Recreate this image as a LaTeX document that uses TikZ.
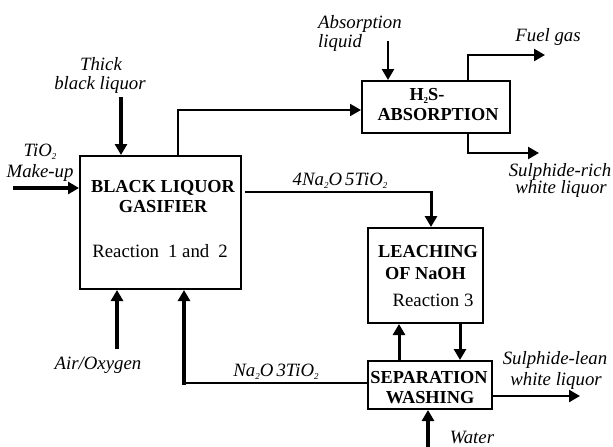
\documentclass[tikz,border=0pt]{standalone}
\usepackage{fontspec}
\setmainfont{Liberation Serif}
\usetikzlibrary{arrows.meta}
\newcommand\mysub[1]{\raisebox{-3pt}{\fontsize{9}{9}\selectfont #1}}
\tikzset{
  box/.style={draw=black, line width=2pt, inner sep=0pt, fill=white},
  lab/.style={font=\fontsize{18.8}{22}\selectfont\itshape, inner sep=0pt, anchor=base},
  btxt/.style={font=\fontsize{18.3}{21}\selectfont\bfseries, inner sep=0pt, anchor=base},
  rtxt/.style={font=\fontsize{18.8}{22}\selectfont, inner sep=0pt, anchor=base},
  tip/.style={-{Triangle[width=12pt,length=11pt]}},
  wthin/.style={line width=1.7pt},
  wmid/.style={line width=2.5pt},
  wthick/.style={line width=3.6pt},
}
\begin{document}
\begin{tikzpicture}[x=1pt,y=-1pt]
\useasboundingbox (0,0) rectangle (613,447);
% boxes
\node[box, minimum width=161pt, minimum height=133pt] (gas) at (160.5,222.5) {};
\node[box, minimum width=148pt, minimum height=52pt] (h2s) at (436,107) {};
\node[box, minimum width=115pt, minimum height=95pt] (leach) at (425.5,275.5) {};
\node[box, minimum width=124pt, minimum height=48pt] (sep) at (430,385) {};
% box texts
\node[btxt] (g1) at (163,192) {BLACK LIQUOR};
\node[btxt] (g2) at (163,212) {GASIFIER};
\node[rtxt] (g3) at (160,257) {Reaction\hspace{9pt}1 and\hspace{9pt}2};
\node[btxt] (h1) at (427,100) {H\mysub{2}S-};
\node[btxt] (h2) at (438,120) {ABSORPTION};
\node[btxt] (l1) at (428,257) {LEACHING};
\node[btxt] (l2) at (425.5,279) {OF NaOH};
\node[rtxt] (l3) at (433,306) {Reaction 3};
\node[btxt] (s1) at (429,383) {SEPARATION};
\node[btxt] (s2) at (430,403) {WASHING};
% labels
\node[lab] (t1) at (101,70) {Thick};
\node[lab] (t2) at (100,89) {black liquor};
\node[lab] (ti1) at (40,156) {TiO\mysub{2}};
\node[lab] (ti2) at (40,177) {Make-up};
\node[lab, anchor=base west] (a1) at (318,28) {Absorption};
\node[lab, anchor=base west] (a2) at (318,47) {liquid};
\node[lab] (fg) at (548,41) {Fuel gas};
\node[lab] (sr1) at (560,176) {Sulphide-rich};
\node[lab] (sr2) at (561,193) {white liquor};
\node[lab] (n4) at (340,185) {4Na\mysub{2}O\,5TiO\mysub{2}};
\node[lab] (ao) at (98,369) {Air/Oxygen};
\node[lab] (n3) at (276,376) {Na\mysub{2}O\,3TiO\mysub{2}};
\node[lab] (sl1) at (555,364) {Sulphide-lean};
\node[lab] (sl2) at (556,385) {white liquor};
\node[lab] (wt) at (472,443) {Water};
% coordinates
\coordinate (ctbl) at (121,97);
\coordinate (cti) at (13,188);
\coordinate (cair) at (117,349);
\coordinate (c1) at (178,110);
\coordinate (c2) at (431,192);
\coordinate (c3) at (184,383);
\coordinate (cal) at (388,41);
\coordinate (c4) at (468,55);
\coordinate (fgend) at (545,55);
\coordinate (c5) at (468,153);
\coordinate (srend) at (539,153);
\coordinate (clu) at (399,340);
\coordinate (cld) at (460,340);
\coordinate (slend) at (580,396);
\coordinate (cwa) at (428,447);
% connectors
\draw[line width=4pt, tip] (ctbl) -- (ctbl |- gas.north);
\draw[wthick, tip] (cti) -- (cti -| gas.west);
\draw[wthick, tip] (cair) -- (cair |- gas.south);
\draw[line width=2pt, tip] (c1 |- gas.north) -- (c1) -- (c1 -| h2s.west);
\draw[wthin] ([xshift=3pt]gas.east |- c2) -- (c2);
\draw[line width=3pt, tip, line cap=rect] (c2) -- (c2 |- leach.north);
\draw[wmid] (sep.west |- c3) -- (c3);
\draw[wthick, tip, line cap=rect] (c3) -- (c3 |- gas.south);
\draw[wmid, tip] (cal) -- (cal |- h2s.north);
\draw[wmid, tip] (c4 |- h2s.north) -- (c4) -- (fgend);
\draw[wmid, tip] (c5 |- h2s.south) -- (c5) -- (srend);
\draw[line width=3pt, tip] (clu |- sep.north) -- (clu |- leach.south);
\draw[line width=3pt, tip] (cld |- leach.south) -- (cld |- sep.north);
\draw[wmid, tip] (sep.east |- slend) -- (slend);
\draw[wthick, tip] (cwa) -- (cwa |- sep.south);
\end{tikzpicture}
\end{document}
